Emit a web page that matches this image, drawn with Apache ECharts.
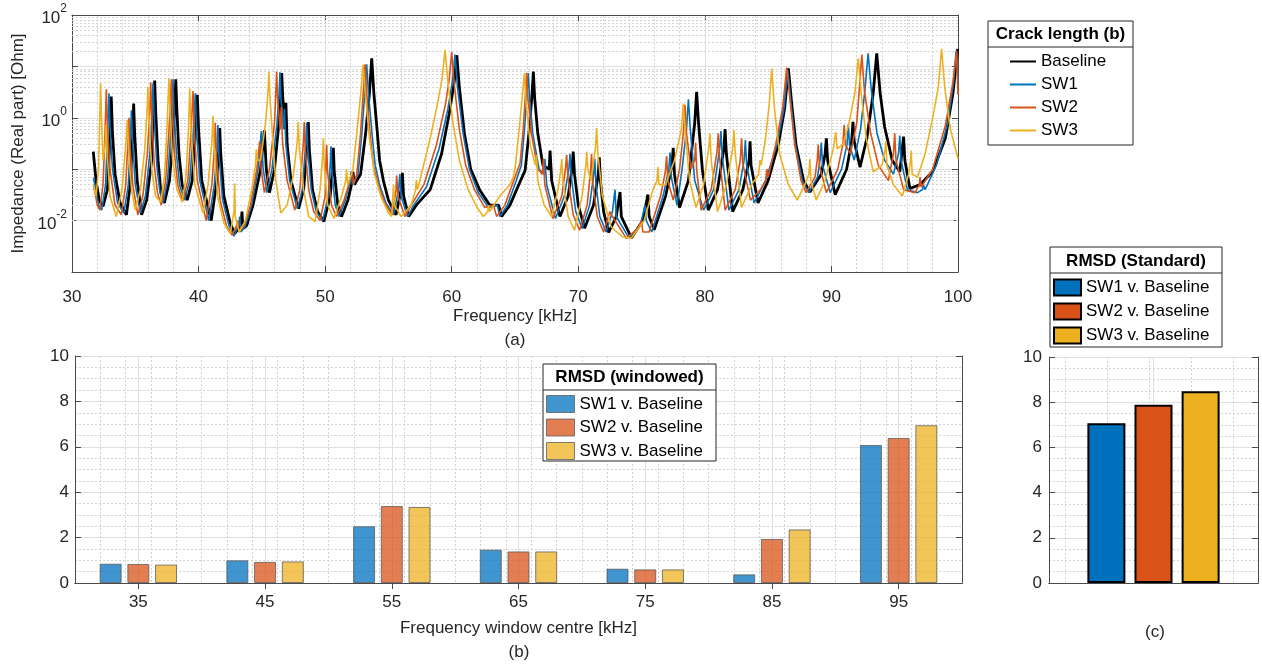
<!DOCTYPE html>
<html>
<head>
<meta charset="utf-8">
<script src="https://cdn.jsdelivr.net/npm/echarts@6/dist/echarts.min.js"></script>
<style>
html,body{margin:0;padding:0;background:#fff;}
#chart{width:1262px;height:666px;}
</style>
</head>
<body>
<div id="chart"></div>
<script>
// ---------- (a) impedance spectra: [frequency kHz, real impedance Ohm] ----------
const baseline = [[31.68,0.22],[31.9,0.06],[32.15,0.025],[32.45,0.019],[32.8,0.04],[33.0,0.4],[33.1,2.6],[33.2,0.5],[33.4,0.08],[33.8,0.022],[34.3,0.013],
[34.6,0.05],[34.8,0.5],[34.87,1.9],[34.95,0.5],[35.15,0.06],[35.5,0.013],[35.9,0.025],[36.3,0.15],[36.45,1.2],[36.53,5.3],[36.62,1.2],[36.8,0.15],[37.0,0.04],[37.3,0.022],
[37.7,0.06],[38.0,0.5],[38.12,1.8],[38.2,5.6],[38.28,1.5],[38.45,0.2],[38.7,0.05],[39.1,0.025],[39.5,0.06],[39.75,0.5],[39.9,2.8],[40.0,0.6],[40.25,0.06],[41.0,0.010],
[41.4,0.05],[41.6,0.25],[41.67,0.63],[41.75,0.2],[42.0,0.03],[42.5,0.009],[42.85,0.0056],[43.35,0.008],[43.43,0.015],[43.5,0.007],[43.8,0.008],[44.3,0.02],[44.9,0.1],
[45.2,0.57],[45.35,0.1],[45.6,0.035],[46.0,0.1],[46.35,0.8],[46.5,3.0],[46.57,7.4],[46.65,2.5],[46.85,0.6],[46.9,1.95],[47.0,0.3],[47.3,0.06],[47.9,0.017],
[48.3,0.04],[48.58,0.3],[48.67,0.83],[48.75,0.25],[49.0,0.04],[49.4,0.015],[49.9,0.0096],[50.4,0.03],[50.6,0.12],[50.65,0.26],[50.72,0.09],[51.0,0.02],[51.3,0.012],
[51.8,0.025],[52.15,0.06],[52.2,0.089],[52.3,0.05],[52.8,0.08],[53.2,0.5],[53.5,3.0],[53.68,14.4],[53.85,3.0],[54.1,0.6],[54.3,0.15],[54.6,0.06],[55.0,0.025],[55.6,0.013],
[56.0,0.04],[56.1,0.085],[56.2,0.03],[56.6,0.012],[57.2,0.02],[58.3,0.04],[59.2,0.2],[59.8,1.2],[60.2,5.0],[60.4,16.6],[60.6,4.0],[61.0,0.5],[61.5,0.1],[62.2,0.04],
[63.0,0.02],[63.7,0.02],[63.95,0.012],[64.6,0.02],[65.3,0.05],[65.8,0.095],[66.1,0.5],[66.35,3.0],[66.45,7.9],[66.55,2.5],[66.8,0.5],[67.2,0.12],[67.7,0.1],[67.77,0.23],
[67.9,0.06],[68.55,0.012],[69.2,0.03],[69.5,0.1],[69.6,0.22],[69.7,0.08],[70.0,0.02],[70.5,0.0071],[71.2,0.02],[71.58,0.08],[71.66,0.17],[71.75,0.06],[72.0,0.015],
[72.4,0.0059],[73.0,0.012],[73.3,0.036],[73.4,0.012],[74.2,0.0046],[75.1,0.01],[75.5,0.032],[75.6,0.012],[76.0,0.0066],[76.9,0.03],[77.4,0.12],[77.5,0.26],[77.6,0.08],
[78.0,0.018],[78.7,0.06],[79.2,0.8],[79.35,3.2],[79.5,0.8],[79.8,0.1],[80.27,0.016],[81.0,0.04],[81.5,0.25],[81.6,0.6],[81.7,0.2],[82.2,0.015],[83.0,0.04],[83.5,0.15],
[83.57,0.35],[83.65,0.12],[84.2,0.022],[85.0,0.06],[85.8,0.3],[86.3,1.5],[86.6,9.1],[86.85,2.0],[87.2,0.3],[87.8,0.06],[88.3,0.036],[89.2,0.08],[89.5,0.2],[89.6,0.4],
[89.7,0.15],[90.3,0.032],[91.2,0.1],[91.6,0.35],[91.7,0.83],[91.8,0.35],[92.26,0.11],[92.8,0.4],[93.3,3.0],[93.58,18],[93.85,3.0],[94.2,0.67],[94.8,0.15],[95.4,0.089],
[95.6,0.25],[95.7,0.43],[95.8,0.15],[96.2,0.042],[97.0,0.05],[98.0,0.09],[99.0,0.4],[99.6,3.0],[99.98,22]];

const sw1 = [[31.7,0.068],[32.1,0.02],[32.35,0.016],[32.65,0.05],[32.83,0.6],[32.92,3.0],[33.0,0.7],[33.2,0.1],[33.6,0.022],[34.1,0.014],[34.45,0.05],[34.62,0.4],[34.69,1.4],
[34.77,0.4],[35.0,0.05],[35.4,0.014],[35.8,0.03],[36.15,0.2],[36.32,1.2],[36.4,4.7],[36.48,1.2],[36.7,0.12],[36.95,0.035],[37.2,0.022],[37.55,0.06],[37.8,0.5],[37.9,1.8],
[37.98,5.6],[38.06,1.5],[38.25,0.2],[38.5,0.05],[38.9,0.025],[39.3,0.06],[39.58,0.5],[39.74,3.0],[39.84,0.6],[40.1,0.06],[40.8,0.01],[41.25,0.05],[41.45,0.25],[41.53,0.72],
[41.6,0.2],[41.9,0.025],[42.4,0.008],[42.8,0.005],[43.2,0.009],[43.25,0.012],[43.35,0.006],[43.7,0.008],[44.2,0.02],[44.7,0.1],[44.96,0.55],[45.1,0.1],[45.4,0.035],
[45.8,0.1],[46.2,0.8],[46.36,3.0],[46.43,7.7],[46.5,2.5],[46.7,0.6],[46.78,1.5],[46.9,0.3],[47.2,0.06],[47.8,0.017],[48.2,0.04],[48.46,0.3],[48.54,0.8],[48.62,0.25],
[48.9,0.04],[49.3,0.015],[49.8,0.01],[50.25,0.03],[50.4,0.12],[50.46,0.28],[50.53,0.09],[50.8,0.02],[51.1,0.012],[51.6,0.025],[52.0,0.06],[52.05,0.09],[52.15,0.05],
[52.6,0.08],[52.9,0.5],[53.12,2.8],[53.28,11],[53.45,2.5],[53.7,0.5],[53.95,0.12],[54.3,0.05],[54.8,0.022],[55.4,0.013],[55.8,0.04],[55.9,0.08],[56.0,0.03],[56.5,0.012],
[57.0,0.02],[58.0,0.045],[59.0,0.25],[59.7,1.5],[60.05,5.0],[60.26,17],[60.45,4.0],[60.9,0.5],[61.4,0.1],[62.1,0.035],[62.9,0.018],[63.6,0.02],[63.8,0.012],[64.4,0.02],
[65.1,0.06],[65.5,0.12],[65.75,0.6],[65.95,3.0],[66.05,7.4],[66.15,2.5],[66.4,0.5],[66.9,0.1],[67.3,0.08],[67.37,0.16],[67.5,0.05],[68.2,0.011],[68.9,0.03],[69.25,0.1],
[69.35,0.2],[69.45,0.07],[69.8,0.015],[70.3,0.007],[70.9,0.02],[71.22,0.08],[71.3,0.16],[71.4,0.05],[71.7,0.012],[72.2,0.006],[72.7,0.015],[72.9,0.04],[73.0,0.012],
[74.0,0.0046],[74.9,0.008],[75.27,0.02],[75.37,0.01],[75.8,0.006],[76.7,0.03],[77.15,0.1],[77.25,0.21],[77.35,0.07],[77.8,0.02],[78.2,0.1],[78.55,0.6],[78.7,2.3],
[78.85,0.6],[79.2,0.06],[79.9,0.016],[80.7,0.04],[81.17,0.25],[81.27,0.55],[81.37,0.18],[81.9,0.016],[82.7,0.04],[83.1,0.15],[83.2,0.37],[83.3,0.12],[83.9,0.022],
[84.8,0.06],[85.7,0.3],[86.25,1.5],[86.55,8.5],[86.8,2.0],[87.15,0.3],[87.7,0.06],[88.2,0.035],[88.9,0.07],[89.1,0.15],[89.2,0.33],[89.3,0.12],[89.9,0.035],[90.8,0.1],
[91.23,0.3],[91.33,0.75],[91.43,0.3],[91.8,0.15],[92.3,0.6],[92.65,3.5],[92.9,18],[93.15,3.5],[93.6,0.5],[94.2,0.15],[94.9,0.08],[95.3,0.2],[95.4,0.45],[95.5,0.15],
[96.0,0.04],[96.8,0.035],[97.2,0.04],[97.26,0.05],[97.4,0.04],[98.3,0.12],[99.2,0.8],[99.65,5],[99.85,20],[100,5]];

const sw2 = [[31.7,0.049],[32.0,0.02],[32.2,0.016],[32.45,0.05],[32.62,0.6],[32.71,3.6],[32.8,0.7],[33.0,0.1],[33.4,0.02],[33.9,0.013],[34.25,0.05],[34.42,0.35],[34.5,1.0],
[34.58,0.3],[34.8,0.05],[35.2,0.013],[35.6,0.03],[35.95,0.2],[36.14,1.2],[36.22,4.9],[36.3,1.2],[36.5,0.12],[36.75,0.035],[37.05,0.02],[37.4,0.06],[37.65,0.5],[37.77,1.8],
[37.85,5.6],[37.93,1.5],[38.1,0.2],[38.35,0.05],[38.75,0.024],[39.15,0.06],[39.4,0.5],[39.56,3.3],[39.66,0.6],[39.9,0.06],[40.6,0.01],[41.05,0.05],[41.25,0.25],[41.32,0.8],
[41.4,0.2],[41.7,0.025],[42.2,0.008],[42.65,0.0052],[43.0,0.008],[43.1,0.01],[43.2,0.006],[43.6,0.008],[44.1,0.02],[44.6,0.1],[44.83,0.35],[44.95,0.1],[45.2,0.035],
[45.6,0.1],[46.0,0.8],[46.1,3.0],[46.17,7.9],[46.24,2.5],[46.45,0.6],[46.53,1.6],[46.65,0.3],[47.0,0.06],[47.6,0.016],[48.0,0.04],[48.27,0.3],[48.35,0.83],[48.43,0.25],
[48.7,0.04],[49.1,0.015],[49.6,0.01],[50.0,0.03],[50.06,0.12],[50.12,0.3],[50.19,0.09],[50.5,0.02],[50.9,0.012],[51.5,0.025],[51.95,0.06],[52.15,0.09],[52.25,0.05],
[52.5,0.08],[52.8,0.5],[53.0,2.8],[53.15,11],[53.3,2.5],[53.55,0.5],[53.8,0.12],[54.2,0.05],[54.7,0.022],[55.3,0.013],[55.6,0.04],[55.65,0.075],[55.75,0.03],[56.3,0.012],
[56.8,0.02],[57.8,0.05],[58.8,0.3],[59.5,1.8],[59.8,5.5],[60.0,19],[60.2,4.5],[60.6,0.6],[61.1,0.12],[61.8,0.04],[62.6,0.018],[63.3,0.02],[63.55,0.012],[64.2,0.02],
[64.9,0.06],[65.4,0.13],[65.65,0.6],[65.83,3.0],[65.92,7.4],[66.02,2.5],[66.3,0.5],[66.8,0.1],[67.17,0.08],[67.24,0.16],[67.35,0.05],[68.0,0.011],[68.7,0.03],[68.98,0.1],
[69.08,0.19],[69.18,0.07],[69.6,0.013],[70.1,0.0065],[70.7,0.02],[70.97,0.09],[71.05,0.2],[71.13,0.06],[71.5,0.012],[72.0,0.006],[72.5,0.015],[72.7,0.012],[73.8,0.0045],
[74.7,0.007],[75.0,0.01],[75.1,0.006],[75.6,0.006],[76.5,0.03],[76.88,0.09],[76.98,0.18],[77.08,0.06],[77.5,0.025],[78.0,0.1],[78.3,0.5],[78.43,1.8],[78.55,0.5],[78.9,0.1],
[79.2,0.15],[79.27,0.33],[79.35,0.1],[79.7,0.016],[80.5,0.04],[80.96,0.22],[81.06,0.5],[81.16,0.17],[81.6,0.016],[82.4,0.04],[82.8,0.15],[82.9,0.4],[83.0,0.13],
[83.6,0.025],[84.4,0.04],[84.8,0.06],[84.9,0.1],[85.0,0.07],[85.6,0.3],[86.15,1.6],[86.47,9.5],[86.75,2.0],[87.1,0.3],[87.6,0.06],[88.0,0.035],[88.7,0.07],[88.88,0.15],
[88.96,0.3],[89.05,0.12],[89.6,0.035],[90.5,0.1],[90.9,0.3],[91.0,0.72],[91.1,0.3],[91.5,0.2],[92.0,0.8],[92.2,3.5],[92.4,17],[92.6,3.5],[93.1,0.5],[93.7,0.12],
[94.5,0.06],[94.9,0.2],[95.0,0.5],[95.1,0.15],[95.7,0.04],[96.6,0.035],[96.95,0.05],[97.0,0.07],[97.1,0.045],[98.0,0.1],[99.0,0.7],[99.6,5],[99.9,20],[100,2.8]];

const sw3 = [[31.7,0.05],[31.9,0.03],[32.1,0.1],[32.2,1.2],[32.26,4.7],[32.33,1.0],[32.45,0.15],[32.62,0.3],[32.7,0.72],[32.78,0.2],[33.0,0.03],[33.5,0.012],[33.95,0.04],
[34.25,0.3],[34.37,0.91],[34.47,0.25],[34.7,0.04],[35.0,0.016],[35.4,0.04],[35.75,0.25],[35.92,1.2],[36.0,4.0],[36.08,1.0],[36.3,0.1],[36.6,0.03],[37.0,0.023],[37.3,0.07],
[37.5,0.6],[37.58,2.0],[37.66,5.9],[37.74,1.5],[37.95,0.15],[38.3,0.04],[38.7,0.023],[39.0,0.07],[39.2,0.6],[39.3,3.7],[39.4,0.6],[39.7,0.05],[40.35,0.014],[40.75,0.05],
[41.05,0.35],[41.14,1.1],[41.22,0.3],[41.5,0.03],[42.0,0.009],[42.5,0.0055],[42.8,0.015],[42.85,0.053],[42.9,0.012],[43.2,0.006],[43.7,0.01],[44.2,0.04],[44.5,0.12],
[44.56,0.24],[44.65,0.15],[44.9,0.15],[45.3,0.8],[45.48,3.0],[45.56,7.9],[45.64,2.5],[45.85,0.4],[46.1,0.06],[46.5,0.014],[47.0,0.02],[47.5,0.08],[47.8,0.35],[47.88,0.83],
[47.96,0.25],[48.3,0.04],[48.7,0.012],[49.2,0.0096],[49.6,0.04],[49.8,0.18],[49.86,0.4],[49.93,0.12],[50.2,0.02],[50.7,0.011],[51.3,0.03],[51.63,0.06],[51.7,0.1],
[51.78,0.05],[52.2,0.1],[52.5,0.5],[52.8,2.8],[53.0,10.7],[53.2,2.5],[53.5,0.4],[53.9,0.08],[54.4,0.03],[55.0,0.014],[55.26,0.012],[55.35,0.03],[55.4,0.049],[55.48,0.02],
[56.0,0.012],[56.8,0.02],[57.15,0.04],[57.2,0.062],[57.3,0.04],[57.7,0.1],[58.3,0.4],[58.9,2.0],[59.25,6.0],[59.47,21],[59.7,5.0],[60.1,0.8],[60.6,0.15],[61.3,0.04],
[62.0,0.018],[62.5,0.012],[62.85,0.015],[62.9,0.02],[63.0,0.015],[63.8,0.03],[64.6,0.05],[64.87,0.07],[65.0,0.1],[65.3,0.5],[65.6,3.0],[65.74,7.4],[65.88,2.0],[66.2,0.3],
[66.6,0.12],[66.7,0.19],[66.8,0.06],[67.3,0.02],[67.9,0.012],[68.4,0.04],[68.62,0.1],[68.7,0.16],[68.78,0.06],[69.2,0.012],[69.7,0.0065],[70.3,0.03],[70.6,0.12],
[70.67,0.22],[70.75,0.1],[71.0,0.06],[71.35,0.25],[71.45,0.63],[71.55,0.2],[71.9,0.03],[72.6,0.0075],[73.5,0.0048],[74.2,0.0046],[75.2,0.01],[75.9,0.04],[76.22,0.06],
[76.3,0.11],[76.38,0.05],[76.9,0.05],[77.6,0.15],[78.15,0.6],[78.3,1.9],[78.45,0.5],[78.8,0.06],[79.3,0.018],[79.9,0.05],[80.3,0.25],[80.4,0.5],[80.5,0.15],[81.0,0.015],
[81.7,0.05],[82.2,0.25],[82.3,0.58],[82.4,0.2],[82.9,0.018],[83.7,0.05],[84.25,0.08],[84.36,0.15],[84.45,0.12],[84.8,0.4],[85.1,2.0],[85.28,9.1],[85.5,1.5],[85.9,0.2],
[86.6,0.05],[87.3,0.025],[87.9,0.05],[88.22,0.08],[88.3,0.16],[88.38,0.06],[88.8,0.025],[89.5,0.06],[90.15,0.25],[90.34,0.53],[90.45,0.25],[90.9,0.3],[91.4,0.8],
[91.85,3.0],[92.12,14.4],[92.35,3.0],[92.75,0.4],[93.3,0.089],[94.0,0.12],[94.25,0.25],[94.3,0.35],[94.38,0.12],[94.9,0.05],[95.6,0.03],[96.1,0.08],[96.25,0.15],
[96.3,0.23],[96.38,0.08],[96.8,0.07],[97.4,0.2],[98.0,1.0],[98.45,4.0],[98.7,22],[98.95,4.0],[99.4,0.6],[100,0.16]];

// ---------- (b) windowed RMSD ----------
const windowCentres = ['35','45','55','65','75','85','95'];
const winSW1 = [0.85, 1.00, 2.50, 1.47, 0.63, 0.38, 6.08];
const winSW2 = [0.84, 0.93, 3.39, 1.39, 0.60, 1.94, 6.39];
const winSW3 = [0.81, 0.95, 3.35, 1.39, 0.60, 2.36, 6.95];

// ---------- (c) standard RMSD ----------
const stdSW1 = [7.07];
const stdSW2 = [7.89];
const stdSW3 = [8.48];

const specNames = ['Baseline', 'SW1', 'SW2', 'SW3'];
const rmsdNames = ['SW1 v. Baseline', 'SW2 v. Baseline', 'SW3 v. Baseline'];

// ---------- styling ----------
const FONT = "'Liberation Sans', Arial, Helvetica, sans-serif";
const TXT = '#262626';
const AXC = '#4a4a4a';
const MAJ = '#dfdfdf';
const MIN = '#d3d3d3';
const C1 = '#0072BD', C2 = '#D95319', C3 = '#EDB120';

const chart = echarts.init(document.getElementById('chart'), null, {renderer: 'canvas'});

function frameAxis(extra) {
  return Object.assign({
    axisLine: {show: true, lineStyle: {color: AXC, width: 1}},
    axisTick: {show: true, inside: true, length: 6, lineStyle: {color: AXC}},
    axisLabel: {show: false},
    splitLine: {show: false}
  }, extra);
}

// log minor grid values (2..9 per decade) for panel (a)
const logMinor = [];
for (let e = -3; e < 2; e++) for (let m = 2; m <= 9; m++) logMinor.push({yAxis: m * Math.pow(10, e)});

const option = {
  animation: false,
  textStyle: {fontFamily: FONT},
  grid: [
    {left: 72, top: 15, width: 886, height: 257},
    {left: 75, top: 356, width: 887, height: 227},
    {left: 1049, top: 357, width: 209, height: 226}
  ],
  xAxis: [
    // 0: (a) bottom
    {type: 'value', gridIndex: 0, min: 30, max: 100, interval: 10, position: 'bottom',
     name: 'Frequency [kHz]', nameLocation: 'middle', nameGap: 36,
     nameTextStyle: {fontSize: 17, color: TXT, fontFamily: FONT},
     axisLine: {show: true, onZero: false, lineStyle: {color: AXC}},
     axisTick: {show: true, inside: true, length: 6, lineStyle: {color: AXC}},
     axisLabel: {fontSize: 17, color: TXT, margin: 17, fontFamily: FONT},
     splitLine: {show: true, lineStyle: {color: MAJ, width: 1}},
     minorTick: {show: false, splitNumber: 5},
     minorSplitLine: {show: true, lineStyle: {color: MIN, type: [2, 2], width: 1}}},
    // 1: (a) top
    frameAxis({type: 'value', gridIndex: 0, min: 30, max: 100, interval: 10, position: 'top'}),
    // 2: (b) bottom category
    {type: 'category', gridIndex: 1, data: windowCentres, position: 'bottom',
     name: 'Frequency window centre [kHz]', nameLocation: 'middle', nameGap: 37,
     nameTextStyle: {fontSize: 17, color: TXT, fontFamily: FONT},
     axisLine: {show: true, onZero: false, lineStyle: {color: AXC}},
     axisTick: {show: true, inside: true, length: 6, alignWithLabel: true, lineStyle: {color: AXC}},
     axisLabel: {fontSize: 17, color: TXT, margin: 11, fontFamily: FONT},
     splitLine: {show: false}},
    // 3: (b) top category
    frameAxis({type: 'category', gridIndex: 1, data: windowCentres, position: 'top',
     axisTick: {show: true, inside: true, length: 6, alignWithLabel: true, lineStyle: {color: AXC}}}),
    // 4: (b) hidden value axis for minor vertical grid
    {type: 'value', gridIndex: 1, min: 30, max: 100, interval: 2, position: 'bottom',
     axisLine: {show: false}, axisTick: {show: false}, axisLabel: {show: false},
     splitLine: {show: true, lineStyle: {color: MIN, type: [2, 2]}}},
    // 5: (c) category
    {type: 'category', gridIndex: 2, data: ['RMSD'], position: 'bottom',
     axisLine: {show: true, onZero: false, lineStyle: {color: AXC}},
     axisTick: {show: false}, axisLabel: {show: false}, splitLine: {show: false}},
    // 6: (c) top frame + hidden value axis for grid
    frameAxis({type: 'value', gridIndex: 2, min: 0.5, max: 1.5, position: 'top',
     axisTick: {show: false}})
  ],
  yAxis: [
    // 0: (a) log left
    {type: 'log', logBase: 10, gridIndex: 0, min: 0.001, max: 100, position: 'left',
     name: 'Impedance (Real part) [Ohm]', nameLocation: 'middle', nameGap: 40,
     nameTextStyle: {fontSize: 17, color: TXT, fontFamily: FONT},
     axisLine: {show: true, lineStyle: {color: AXC}},
     axisTick: {show: true, inside: true, length: 6, lineStyle: {color: AXC}},
     axisLabel: {
       margin: 5, color: TXT,
       formatter: function (v) {
         const e = Math.round(Math.log10(v));
         if (e % 2 !== 0) return '';
         return '{b|10}{e|' + e + '}';
       },
       rich: {
         b: {fontSize: 17, color: TXT, fontFamily: FONT, lineHeight: 24, verticalAlign: 'bottom'},
         e: {fontSize: 12, color: TXT, fontFamily: FONT, lineHeight: 24, verticalAlign: 'top'}
       }
     },
     splitLine: {show: true, lineStyle: {color: MAJ, width: 1}}},
    // 1: (a) log right
    frameAxis({type: 'log', logBase: 10, gridIndex: 0, min: 0.001, max: 100, position: 'right'}),
    // 2: (b) left
    {type: 'value', gridIndex: 1, min: 0, max: 10, interval: 2, position: 'left',
     axisLine: {show: true, lineStyle: {color: AXC}},
     axisTick: {show: true, inside: true, length: 6, lineStyle: {color: AXC}},
     axisLabel: {fontSize: 17, color: TXT, margin: 6, fontFamily: FONT},
     splitLine: {show: true, lineStyle: {color: MAJ}},
     minorTick: {show: false, splitNumber: 4},
     minorSplitLine: {show: true, lineStyle: {color: MIN, type: [2, 2]}}},
    // 3: (b) right
    frameAxis({type: 'value', gridIndex: 1, min: 0, max: 10, interval: 2, position: 'right'}),
    // 4: (c) left
    {type: 'value', gridIndex: 2, min: 0, max: 10, interval: 2, position: 'left',
     axisLine: {show: true, lineStyle: {color: AXC}},
     axisTick: {show: true, inside: true, length: 6, lineStyle: {color: AXC}},
     axisLabel: {fontSize: 17, color: TXT, margin: 7, fontFamily: FONT},
     splitLine: {show: true, lineStyle: {color: MAJ}},
     minorTick: {show: false, splitNumber: 4},
     minorSplitLine: {show: true, lineStyle: {color: MIN, type: [2, 2]}}},
    // 5: (c) right
    frameAxis({type: 'value', gridIndex: 2, min: 0, max: 10, interval: 2, position: 'right'})
  ],
  legend: [
    {data: specNames, orient: 'vertical', left: 1009, top: 53, padding: 0, itemWidth: 26, itemHeight: 14, itemGap: 6,
     itemStyle: {opacity: 0},
     selectedMode: false, textStyle: {fontSize: 17, color: '#000', fontFamily: FONT}, z: 10},
    {data: rmsdNames.map((n, i) => ({name: n, icon: 'rect',
        itemStyle: {color: [C1, C2, C3][i], opacity: 0.75, borderColor: '#555', borderWidth: 1}})),
     orient: 'vertical', left: 546, top: 395, padding: 0, itemWidth: 28, itemHeight: 17, itemGap: 5.5,
     selectedMode: false, textStyle: {fontSize: 17, color: '#000', fontFamily: FONT}, z: 10},
    {data: rmsdNames.map((n, i) => ({name: n, icon: 'rect',
        itemStyle: {color: [C1, C2, C3][i], opacity: 1, borderColor: '#000', borderWidth: 2}})),
     orient: 'vertical', left: 1053, top: 278.5, padding: 0, itemWidth: 27, itemHeight: 16, itemGap: 6,
     selectedMode: false, textStyle: {fontSize: 17, color: '#000', fontFamily: FONT}, z: 10}
  ],
  series: [
    // grid helpers (drawn beneath data)
    {type: 'line', name: '_logminor', xAxisIndex: 0, yAxisIndex: 0, data: [[30, 1]], symbol: 'none',
     lineStyle: {opacity: 0}, z: 1, silent: true,
     markLine: {silent: true, z: 1, symbol: ['none', 'none'], label: {show: false},
       lineStyle: {color: MIN, type: [2, 2], width: 1}, data: logMinor, animation: false}},
    {type: 'line', name: '_bmajor', xAxisIndex: 4, yAxisIndex: 2, data: [[30, 0]], symbol: 'none',
     lineStyle: {opacity: 0}, z: 1, silent: true,
     markLine: {silent: true, z: 1, symbol: ['none', 'none'], label: {show: false},
       lineStyle: {color: MAJ, type: 'solid', width: 1},
       data: [35, 45, 55, 65, 75, 85, 95].map(v => ({xAxis: v})), animation: false}},
    {type: 'line', name: '_cgrid', xAxisIndex: 6, yAxisIndex: 4, data: [[0.5, 0]], symbol: 'none',
     lineStyle: {opacity: 0}, z: 1, silent: true,
     markLine: {silent: true, z: 1, symbol: ['none', 'none'], label: {show: false}, animation: false,
       data: [
         {xAxis: 0.577, lineStyle: {color: MIN, type: [2, 2], width: 1}},
         {xAxis: 0.777, lineStyle: {color: MIN, type: [2, 2], width: 1}},
         {xAxis: 0.977, lineStyle: {color: MIN, type: [2, 2], width: 1}},
         {xAxis: 1.177, lineStyle: {color: MIN, type: [2, 2], width: 1}},
         {xAxis: 1.377, lineStyle: {color: MIN, type: [2, 2], width: 1}},
         {xAxis: 1.0, lineStyle: {color: MAJ, type: 'solid', width: 1}}
       ]}},
    // (a) spectra
    {type: 'line', name: 'Baseline', xAxisIndex: 0, yAxisIndex: 0, data: baseline, symbol: 'none',
     lineStyle: {color: '#000', width: 2.8}, itemStyle: {color: '#000'}, z: 2},
    {type: 'line', name: 'SW1', xAxisIndex: 0, yAxisIndex: 0, data: sw1, symbol: 'none',
     lineStyle: {color: C1, width: 1.6}, itemStyle: {color: C1}, z: 3},
    {type: 'line', name: 'SW2', xAxisIndex: 0, yAxisIndex: 0, data: sw2, symbol: 'none',
     lineStyle: {color: C2, width: 1.6}, itemStyle: {color: C2}, z: 4},
    {type: 'line', name: 'SW3', xAxisIndex: 0, yAxisIndex: 0, data: sw3, symbol: 'none',
     lineStyle: {color: C3, width: 1.6}, itemStyle: {color: C3}, z: 5},
    // (b) windowed bars
    {type: 'bar', name: rmsdNames[0], xAxisIndex: 2, yAxisIndex: 2, data: winSW1, barWidth: 22, barGap: '26%',
     itemStyle: {color: C1, opacity: 0.75, borderColor: '#555', borderWidth: 1}, z: 2},
    {type: 'bar', name: rmsdNames[1], xAxisIndex: 2, yAxisIndex: 2, data: winSW2, barWidth: 22, barGap: '26%',
     itemStyle: {color: C2, opacity: 0.75, borderColor: '#555', borderWidth: 1}, z: 2},
    {type: 'bar', name: rmsdNames[2], xAxisIndex: 2, yAxisIndex: 2, data: winSW3, barWidth: 22, barGap: '26%',
     itemStyle: {color: C3, opacity: 0.75, borderColor: '#555', borderWidth: 1}, z: 2},
    // (c) standard bars
    {type: 'bar', name: rmsdNames[0], xAxisIndex: 5, yAxisIndex: 4, data: stdSW1, barWidth: 38, barGap: '24%',
     itemStyle: {color: C1, borderColor: '#000', borderWidth: 2}, z: 2},
    {type: 'bar', name: rmsdNames[1], xAxisIndex: 5, yAxisIndex: 4, data: stdSW2, barWidth: 38, barGap: '24%',
     itemStyle: {color: C2, borderColor: '#000', borderWidth: 2}, z: 2},
    {type: 'bar', name: rmsdNames[2], xAxisIndex: 5, yAxisIndex: 4, data: stdSW3, barWidth: 38, barGap: '24%',
     itemStyle: {color: C3, borderColor: '#000', borderWidth: 2}, z: 2}
  ],
  graphic: [
    // legend (a) box
    {type: 'rect', z: 8, shape: {x: 988, y: 21, width: 145, height: 124}, style: {fill: '#fff', stroke: '#262626', lineWidth: 1}},
    {type: 'line', z: 9, shape: {x1: 988, y1: 47, x2: 1133, y2: 47}, style: {stroke: '#262626', lineWidth: 1}},
    {type: 'text', z: 9, style: {text: 'Crack length (b)', x: 1060.5, y: 34, align: 'center', verticalAlign: 'middle',
      font: "bold 17px 'Liberation Sans', Arial, sans-serif", fill: '#000'}},
    // legend (b) box
    {type: 'rect', z: 8, shape: {x: 543, y: 364, width: 173, height: 97}, style: {fill: '#fff', stroke: '#262626', lineWidth: 1}},
    {type: 'line', z: 9, shape: {x1: 543, y1: 390, x2: 716, y2: 390}, style: {stroke: '#262626', lineWidth: 1}},
    {type: 'text', z: 9, style: {text: 'RMSD (windowed)', x: 629.5, y: 377.5, align: 'center', verticalAlign: 'middle',
      font: "bold 17px 'Liberation Sans', Arial, sans-serif", fill: '#000'}},
    // legend (c) box
    {type: 'rect', z: 8, shape: {x: 1050, y: 247, width: 172, height: 100}, style: {fill: '#fff', stroke: '#262626', lineWidth: 1}},
    {type: 'line', z: 9, shape: {x1: 1050, y1: 273, x2: 1222, y2: 273}, style: {stroke: '#262626', lineWidth: 1}},
    {type: 'text', z: 9, style: {text: 'RMSD (Standard)', x: 1136, y: 261.5, align: 'center', verticalAlign: 'middle',
      font: "bold 17px 'Liberation Sans', Arial, sans-serif", fill: '#000'}},
    // panel captions
    {type: 'text', z: 9, style: {text: '(a)', x: 515, y: 340, align: 'center', verticalAlign: 'middle',
      font: "17px 'Liberation Sans', Arial, sans-serif", fill: TXT}},
    {type: 'text', z: 9, style: {text: '(b)', x: 519, y: 652, align: 'center', verticalAlign: 'middle',
      font: "17px 'Liberation Sans', Arial, sans-serif", fill: TXT}},
    {type: 'text', z: 9, style: {text: '(c)', x: 1155, y: 632, align: 'center', verticalAlign: 'middle',
      font: "17px 'Liberation Sans', Arial, sans-serif", fill: TXT}}
  ]
};
chart.setOption(option);
</script>
</body>
</html>
